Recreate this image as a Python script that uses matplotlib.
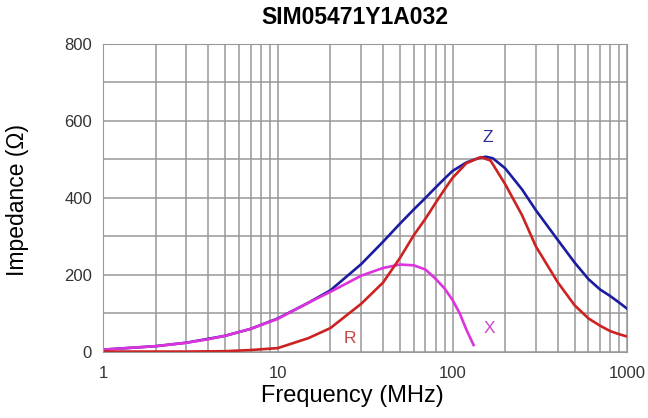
import numpy as np
import matplotlib
matplotlib.use('Agg')
import matplotlib.pyplot as plt
from matplotlib.ticker import FixedLocator, NullFormatter

plt.rcParams['font.family'] = ['Liberation Sans', 'DejaVu Sans']

# Values (frequency in MHz, impedance in ohm)
z_freq = [1, 2, 3, 5, 7, 10, 15, 20, 30, 40, 50, 60, 70, 80, 90, 100, 120,
          140, 155, 170, 200, 250, 300, 400, 500, 600, 700, 800, 900, 1000]
z_vals = [6, 15, 24, 42, 60, 87, 128, 160, 228, 286, 333, 370, 400, 427, 450,
          470, 492, 503, 507, 503, 477, 422, 368, 291, 232, 189, 162, 145, 128, 112]

r_freq = [1, 3, 5, 7, 10, 15, 20, 30, 40, 50, 60, 70, 80, 90, 100, 120, 145,
          165, 200, 250, 300, 400, 500, 600, 700, 800, 900, 1000]
r_vals = [1, 1, 2, 5, 10, 36, 62, 125, 180, 244, 303, 346, 387, 422, 452, 490,
          506, 497, 436, 355, 274, 181, 121, 87, 68, 54, 46, 40]

x_freq = [1, 2, 3, 4, 5, 7, 10, 15, 20, 30, 40, 50, 60, 70, 80, 90, 100, 110,
          120, 132]
x_vals = [6, 15, 24, 33, 42, 60, 86, 128, 156, 198, 218, 227, 225, 214, 190,
          165, 135, 100, 58, 18]

fig = plt.figure(figsize=(6.48, 4.18), dpi=100)
ax = fig.add_axes([0.159, 0.158, 0.809, 0.737])

ax.plot(z_freq, z_vals, color='#1c1ca0', lw=1.9)
ax.plot(x_freq, x_vals, color='#dd33dd', lw=1.9)
ax.plot(r_freq, r_vals, color='#cc2222', lw=1.9)

ax.set_xscale('log')
ax.set_xlim(1, 1000)
ax.set_ylim(0, 800)
ax.set_xticks([1, 10, 100, 1000])
ax.set_xticklabels(['1', '10', '100', '1000'])
minors = [m * 10 ** e for e in range(3) for m in range(2, 10)]
ax.xaxis.set_minor_locator(FixedLocator(minors))
ax.xaxis.set_minor_formatter(NullFormatter())
ax.set_yticks([0, 200, 400, 600, 800])
ax.set_yticks(range(100, 800, 200), minor=True)

ax.grid(True, which='both', color='#999999', lw=1.1)
ax.set_axisbelow(True)
ax.tick_params(which='both', length=0, labelsize=12, colors='#333333')
ax.tick_params(axis='y', pad=8)
ax.tick_params(axis='x', pad=10)
for s in ax.spines.values():
    s.set_color('#999999')

ax.text(160, 556, 'Z', color='#2a2a9a', fontsize=12.5, ha='center', va='center')
ax.text(162, 62, 'X', color='#cc44cc', fontsize=12.5, ha='center', va='center')
ax.text(26, 36, 'R', color='#c84444', fontsize=12.5, ha='center', va='center')

fig.text(355 / 648, 1 - 18 / 418, 'SIM05471Y1A032', fontsize=16.5,
         fontweight='bold', ha='center', va='center')
fig.text(352 / 648, 1 - 396 / 418, 'Frequency (MHz)', fontsize=17,
         ha='center', va='center')
fig.text(18 / 648, 1 - 200 / 418, 'Impedance (\u03a9)', fontsize=16.5,
         ha='center', va='center', rotation=90)

fig.savefig('out.png', dpi=100)
